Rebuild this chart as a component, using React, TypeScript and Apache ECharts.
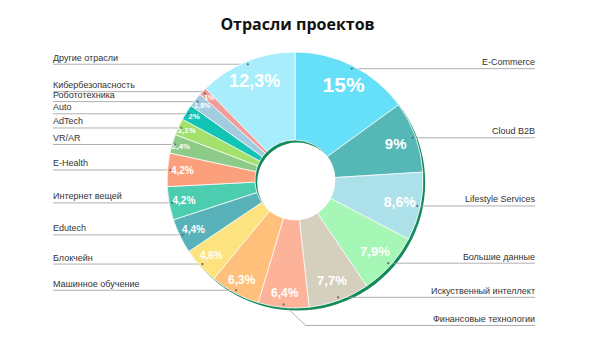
import React, { useEffect, useRef } from "react";
import * as echarts from "echarts";

const title = "Отрасли проектов";

const categories = [
  "E-Commerce",
  "Cloud B2B",
  "Lifestyle Services",
  "Большие данные",
  "Искуственный интеллект",
  "Финансовые технологии",
  "Машинное обучение",
  "Блокчейн",
  "Edutech",
  "Интернет вещей",
  "E-Health",
  "VR/AR",
  "AdTech",
  "Auto",
  "Робототехника",
  "Кибербезопасность",
  "Другие отрасли",
];

const shares = [15, 9, 8.6, 7.9, 7.7, 6.4, 6.3, 4.6, 4.4, 4.2, 4.2, 2.4, 2.1, 2, 1.8, 1, 12.3];

const colors = [
  "#66DFF9",
  "#55B8B6",
  "#ADE1EA",
  "#A6F6B6",
  "#D5CFBE",
  "#FDB29A",
  "#FEC07A",
  "#FDE37F",
  "#59B2BA",
  "#4CCDAF",
  "#FB9F7C",
  "#8ECB88",
  "#A3E06C",
  "#12C4B4",
  "#A4CCE0",
  "#F49B9B",
  "#A8EDFC",
];

// style / layout config
const CENTER: [number, number] = [295, 180];
const R_IN = 40;
const R_OUT = 128;
const SHADOW_OFFSET: [number, number] = [2.2, 2.6];
const LEFT_EDGE = 53;
const RIGHT_EDGE = 535;
const BENT_LABEL = "Финансовые технологии";
const MIN_GAP = 10;

const fmtPct = (v: number) => String(v).replace(".", ",") + "%";
const pctFont = (v: number) => Math.max(6, Math.min(21, Math.round(5.5 + v)));
const labelGroup = (v: number) => (v >= 7.5 ? 0 : v >= 4 ? 1 : 2);
const groupRadius = [
  [84, 124],
  [96, 124],
  [108, 124],
];

// label line anchors, derived from the shares (same geometry as the pie)
function computeAnchors() {
  const total = shares.reduce((a, b) => a + b, 0);
  let acc = 0;
  const r = R_OUT - 3;
  const items = shares.map((v, i) => {
    const m = ((acc + v / 2) / total) * Math.PI * 2;
    acc += v;
    const sx = CENTER[0] + r * Math.sin(m);
    const sy = CENTER[1] - r * Math.cos(m);
    const bend = categories[i] === BENT_LABEL;
    const isLeft = bend ? false : Math.sin(m) < 0;
    const lineY = bend ? sy + 21 : sy;
    const midX = bend ? sx + 22 : sx;
    return { sx, sy, midX, lineY, isLeft };
  });
  // keep a minimum spacing between labels on the left side
  const left = items
    .map((it, i) => ({ it, i }))
    .filter((o) => o.it.isLeft)
    .sort((a, b) => b.it.lineY - a.it.lineY);
  for (let k = 1; k < left.length; k++) {
    const prev = left[k - 1].it;
    const cur = left[k].it;
    if (cur.lineY > prev.lineY - MIN_GAP) cur.lineY = prev.lineY - MIN_GAP;
  }
  return items;
}

export default function App() {
  const ref = useRef<HTMLDivElement>(null);

  useEffect(() => {
    if (!ref.current) return;
    const chart = echarts.init(ref.current, undefined, { renderer: "svg" });
    const anchors = computeAnchors();

    const baseData = categories.map((name, i) => ({
      name,
      value: shares[i],
      itemStyle: { color: colors[i] },
    }));

    const overlaySeries = groupRadius.map((radius, g) => ({
      type: "pie",
      center: CENTER,
      radius,
      silent: true,
      z: 5,
      clockwise: true,
      startAngle: 90,
      avoidLabelOverlap: false,
      itemStyle: { color: "rgba(0,0,0,0)", borderWidth: 0 },
      labelLine: { show: false },
      emphasis: { disabled: true },
      data: categories.map((name, i) => ({
        name,
        value: shares[i],
        label: {
          show: labelGroup(shares[i]) === g,
          position: "inside",
          formatter: fmtPct(shares[i]),
          color: "#ffffff",
          fontWeight: "bold",
          fontFamily: "Liberation Sans",
          fontSize: pctFont(shares[i]),
        },
      })),
    }));

    chart.setOption({
      animation: false,
      backgroundColor: "#ffffff",
      title: {
        text: title,
        left: "center",
        top: 11,
        textStyle: {
          fontFamily: "Open Sans",
          fontWeight: "bold",
          fontSize: 16,
          color: "#111111",
        },
      },
      graphic: anchors.map((a) => ({
        type: "circle",
        z: 20,
        silent: true,
        shape: { cx: a.sx, cy: a.sy, r: 1.1 },
        style: { fill: "#6b6b6b" },
      })),
      series: [
        {
          type: "pie",
          center: [CENTER[0] + SHADOW_OFFSET[0], CENTER[1] + SHADOW_OFFSET[1]],
          radius: [R_IN, R_OUT],
          silent: true,
          z: 1,
          label: { show: false },
          labelLine: { show: false },
          itemStyle: { color: "#128A5C", borderWidth: 0 },
          data: [{ name: "shadow", value: 1 }],
        },
        {
          type: "pie",
          center: CENTER,
          radius: [R_IN, R_OUT],
          z: 3,
          clockwise: true,
          startAngle: 90,
          avoidLabelOverlap: false,
          itemStyle: { borderColor: "#ffffff", borderWidth: 0.8 },
          emphasis: { disabled: true },
          label: {
            show: true,
            position: "outside",
            formatter: "{b}",
            fontFamily: "Liberation Sans",
            fontSize: 9,
            lineHeight: 9,
            color: "#333333",
          },
          labelLine: {
            show: true,
            length: 6,
            length2: 6,
            smooth: false,
            lineStyle: { color: "#9a9a9a", width: 0.8 },
          },
          labelLayout: (p: any) => {
            const a = anchors[p.dataIndex];
            if (!a) return {};
            const edgeX = a.isLeft ? LEFT_EDGE : RIGHT_EDGE;
            return {
              x: edgeX,
              y: a.lineY - 2,
              align: a.isLeft ? "left" : "right",
              verticalAlign: "bottom",
              labelLinePoints: [
                [a.sx, a.sy],
                [a.midX, a.lineY],
                [edgeX, a.lineY],
              ],
            };
          },
          data: baseData,
        },
        ...overlaySeries,
      ],
    });

    return () => chart.dispose();
  }, []);

  return (
    <div
      ref={ref}
      style={{ position: "absolute", left: 0, top: 0, width: 595, height: 356 }}
    />
  );
}
